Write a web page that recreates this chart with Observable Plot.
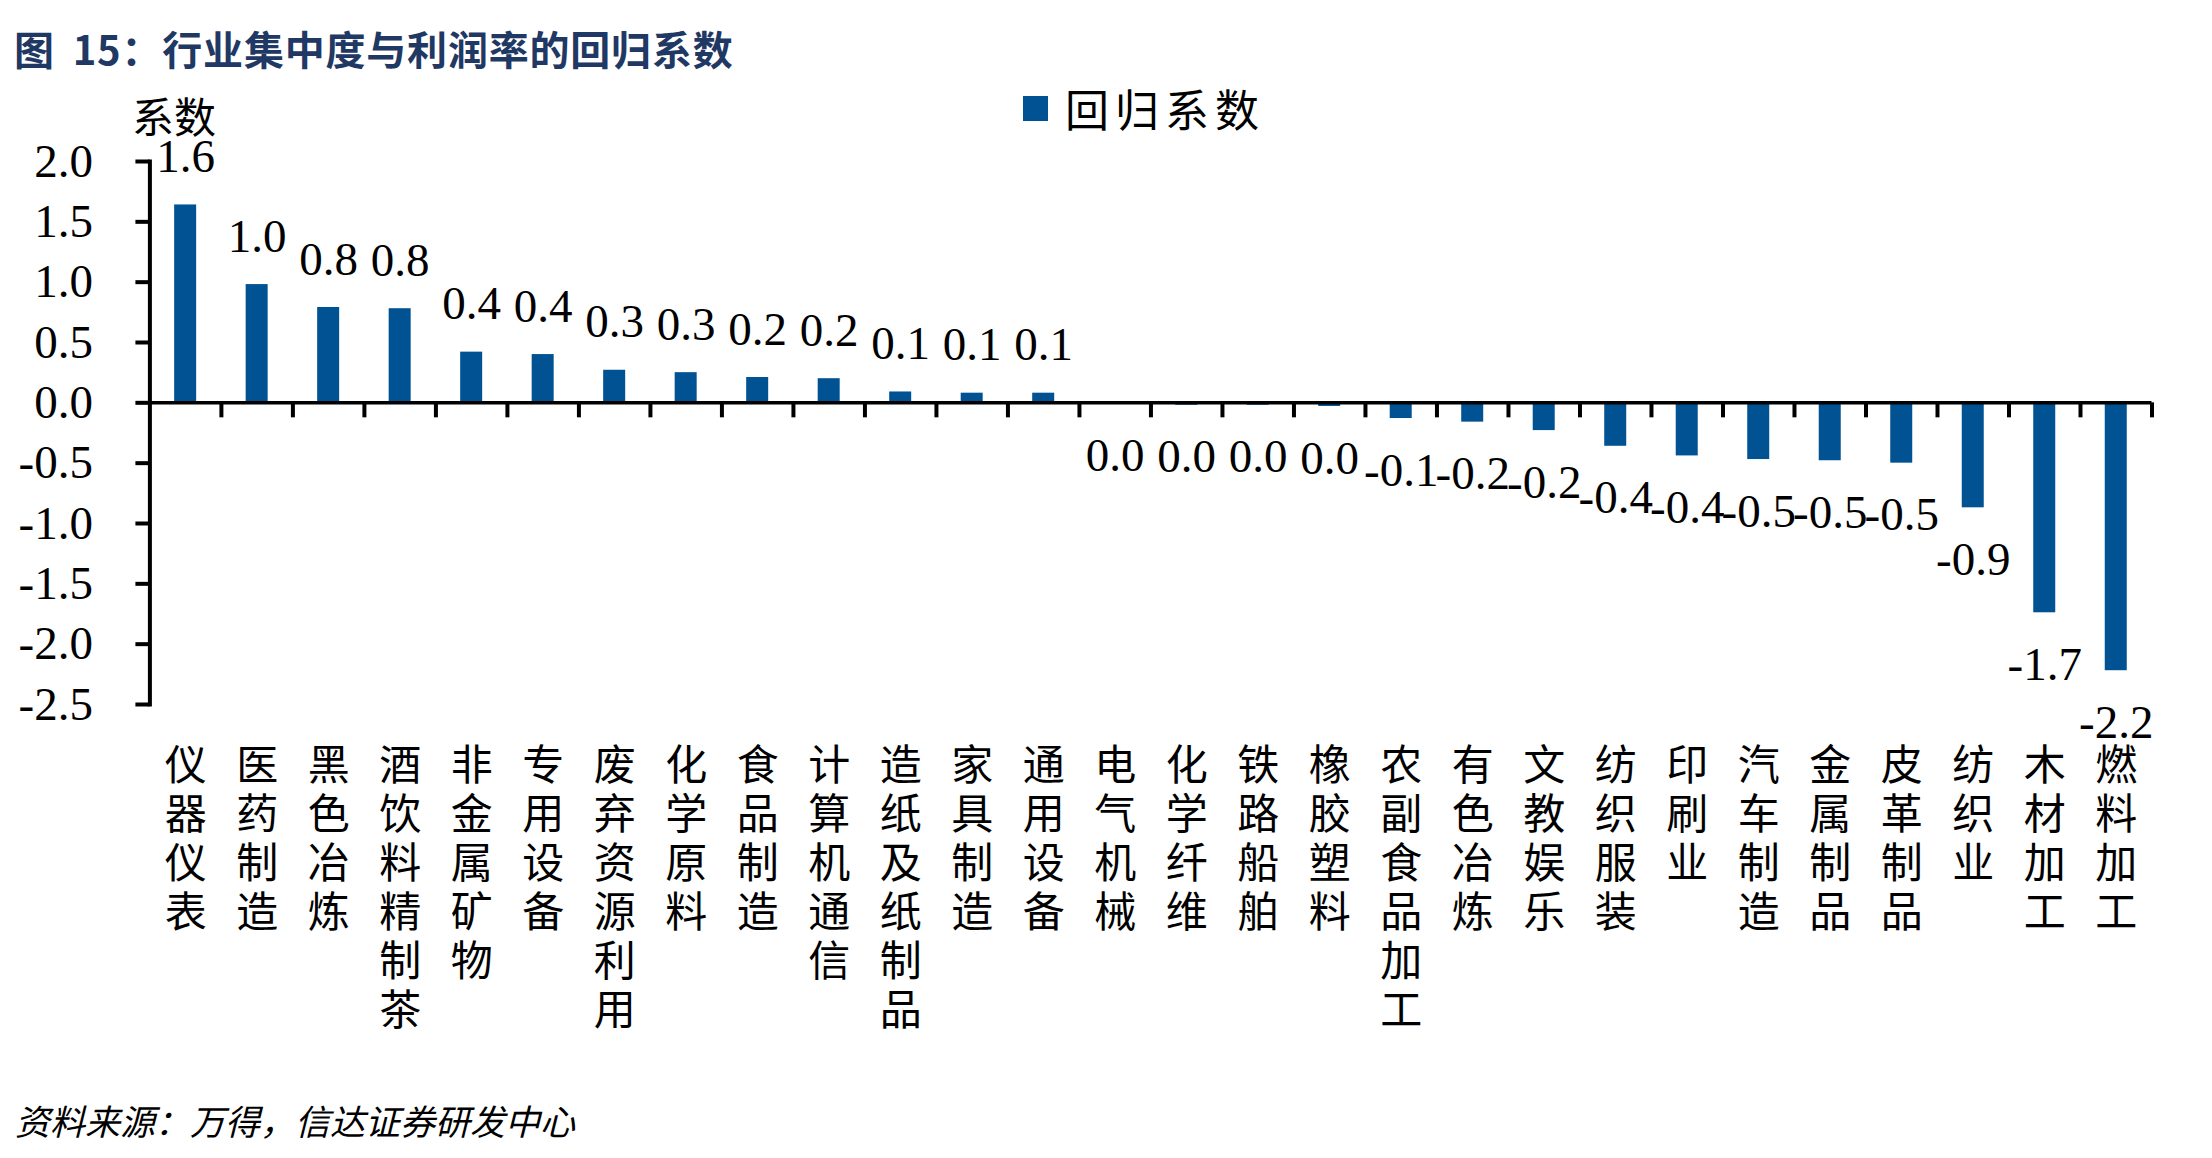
<!DOCTYPE html>
<html>
<head>
<meta charset="utf-8">
<script src="https://cdn.jsdelivr.net/npm/d3@7"></script>
<script src="https://cdn.jsdelivr.net/npm/@observablehq/plot@0.6"></script>
<style>
  html, body { margin: 0; padding: 0; background: #fff; }
  #page { position: relative; width: 2212px; height: 1158px; overflow: hidden; }
  .cjk { font-family: "Noto Sans CJK SC", "Noto Sans", sans-serif; }
  #title { position: absolute; left: 14px; top: 27px; font-size: 40px; line-height: 42px; font-weight: 700; color: #1F3864; white-space: nowrap; letter-spacing: 0.8px; word-spacing: 8px; }
  #ylabel { position: absolute; left: 132px; top: 93px; font-size: 42px; line-height: 44px; color: #000; white-space: nowrap; }
  #legend { position: absolute; left: 1023px; top: 85px; height: 46px; display: flex; align-items: center; white-space: nowrap; }
  #legend .sw { width: 25px; height: 25px; background: #005293; margin-right: 17px; }
  #legend .lt { font-size: 44px; line-height: 46px; letter-spacing: 6px; color: #000; }
  #chart { position: absolute; left: 0; top: 136px; }
  #caption { position: absolute; left: 15px; top: 1101px; font-size: 35px; line-height: 38px; font-style: italic; color: #000; white-space: nowrap; }
</style>
</head>
<body>
<div id="page">
  <div id="title" class="cjk"></div>
  <div id="ylabel" class="cjk"></div>
  <div id="legend" class="cjk"><div class="sw"></div><div class="lt"></div></div>
  <div id="chart"></div>
  <div id="caption" class="cjk"></div>
</div>
<script>
// ---- data ----
const titleText = "图 15：行业集中度与利润率的回归系数";
const yAxisLabel = "系数";
const seriesName = "回归系数";
const captionText = "资料来源：万得，信达证券研发中心";

const categories = ["仪器仪表","医药制造","黑色冶炼","酒饮料精制茶","非金属矿物","专用设备","废弃资源利用","化学原料","食品制造","计算机通信","造纸及纸制品","家具制造","通用设备","电气机械","化学纤维","铁路船舶","橡胶塑料","农副食品加工","有色冶炼","文教娱乐","纺织服装","印刷业","汽车制造","金属制品","皮革制品","纺织业","木材加工","燃料加工"];
const values = [1.64, 0.98, 0.79, 0.78, 0.42, 0.40, 0.27, 0.25, 0.21, 0.20, 0.09, 0.08, 0.08, -0.01, -0.02, -0.02, -0.03, -0.13, -0.16, -0.23, -0.36, -0.44, -0.47, -0.48, -0.50, -0.87, -1.74, -2.22];
const valueLabels = ["1.6","1.0","0.8","0.8","0.4","0.4","0.3","0.3","0.2","0.2","0.1","0.1","0.1","0.0","0.0","0.0","0.0","-0.1","-0.2","-0.2","-0.4","-0.4","-0.5","-0.5","-0.5","-0.9","-1.7","-2.2"];
const yTicks = [2.0, 1.5, 1.0, 0.5, 0.0, -0.5, -1.0, -1.5, -2.0, -2.5];
const yTickLabels = ["2.0","1.5","1.0","0.5","0.0","-0.5","-1.0","-1.5","-2.0","-2.5"];

// ---- page text ----
document.getElementById("title").textContent = titleText;
document.getElementById("ylabel").textContent = yAxisLabel;
document.querySelector("#legend .lt").textContent = seriesName;
document.getElementById("caption").textContent = captionText;

// ---- chart ----
const rows = categories.map((c, i) => ({cat: c, value: values[i], label: valueLabels[i]}));
const W = 2212, H = 920;
const mL = 149.4, mR = 60.5, mT = 25, mB = 352;
const bw = (W - mL - mR) / categories.length;
const barW = 22;
const inset = (bw - barW) / 2;
const blue = "#005293";
const serif = "'Times New Roman', 'Liberation Serif', serif";
const cjk = "'Noto Sans CJK SC', 'Noto Sans', sans-serif";

const chart = Plot.plot({
  width: W,
  height: H,
  marginLeft: mL,
  marginRight: mR,
  marginTop: mT,
  marginBottom: mB,
  style: {background: "transparent", overflow: "visible"},
  x: {domain: categories, padding: 0, round: false, axis: null, label: null},
  y: {domain: [yTicks[yTicks.length - 1], yTicks[0]], axis: null, label: null},
  marks: [
    Plot.barY(rows, {x: "cat", y: "value", fill: blue, insetLeft: inset, insetRight: inset}),
    Plot.ruleY([0], {stroke: "#000", strokeWidth: 3.5}),
    Plot.ruleX(rows, {x: "cat", y1: 0, y2: 0, insetBottom: -15, dx: bw / 2, stroke: "#000", strokeWidth: 4}),
    Plot.frame({anchor: "left", stroke: "#000", strokeWidth: 4}),
    Plot.axisY({
      ticks: yTicks,
      tickFormat: (d) => yTickLabels[yTicks.indexOf(d)],
      label: null,
      tickSize: 14,
      tickPadding: 43,
      strokeWidth: 4,
      stroke: "#000",
      fill: "#000",
      fontSize: 47,
      fontFamily: serif
    }),
    Plot.axisX({
      anchor: "bottom",
      label: null,
      tickSize: 0,
      tickPadding: 41,
      tickFormat: (d) => d.split("").join("\n"),
      lineAnchor: "top",
      lineHeight: 49 / 42,
      fontSize: 42,
      fontFamily: cjk,
      fill: "#000"
    }),
    Plot.text(rows.filter((d) => d.value >= 0), {x: "cat", y: "value", text: "label", dy: -48, fontSize: 47, fontFamily: serif, fill: "#000"}),
    Plot.text(rows.filter((d) => d.value < 0), {x: "cat", y: "value", text: "label", dy: 52, fontSize: 47, fontFamily: serif, fill: "#000"})
  ]
});
document.getElementById("chart").appendChild(chart);
</script>
</body>
</html>
